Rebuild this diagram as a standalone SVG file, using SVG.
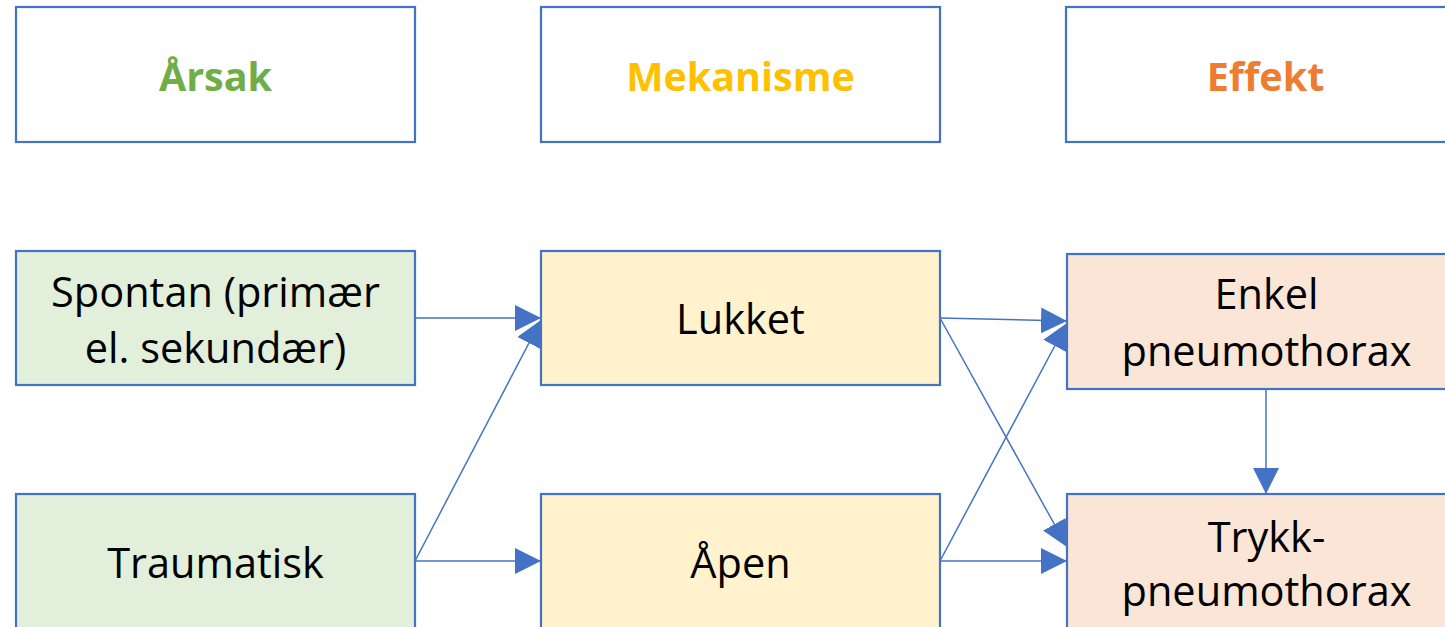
<svg xmlns="http://www.w3.org/2000/svg" width="1445" height="627" viewBox="0 0 1445 627">
<style>
.box{stroke:#4472C4;stroke-width:2.2}
.hdr{fill:#fff}
.g{fill:#E2EFDA}.y{fill:#FFF2CC}.p{fill:#FBE5D6}
text{font-family:"Open Sans","Noto Sans",sans-serif;text-anchor:middle}
.h{font-size:39.5px;font-weight:bold}
.t{font-size:41.5px;fill:#000}
.c{stroke:#4472C4;stroke-width:1.5;fill:none;marker-end:url(#ah)}
</style>
<defs>
<marker id="ah" markerUnits="userSpaceOnUse" markerWidth="28" markerHeight="28" refX="26" refY="13" orient="auto">
<path d="M0,0 L26,13 L0,26 Z" fill="#4472C4"/>
</marker>
</defs>
<rect width="1445" height="627" fill="#fff"/>
<g id="connectors">
<path class="c" d="M415,318 L541,318"/>
<path class="c" d="M415,561 L541,320"/>
<path class="c" d="M415,561 L541,561"/>
<path class="c" d="M940,318 L1067,321"/>
<path class="c" d="M940,318 L1067,547"/>
<path class="c" d="M940,561 L1067,323"/>
<path class="c" d="M940,561 L1067,561"/>
<path class="c" d="M1266,389 L1266,494"/>
</g>
<g id="h-arsak"><rect class="box hdr" x="16" y="7" width="399" height="135"/><text class="h" x="215.5" y="91" fill="#70AD47">Årsak</text></g>
<g id="h-mekanisme"><rect class="box hdr" x="541" y="7" width="399" height="135"/><text class="h" x="740.5" y="91" fill="#FFC000">Mekanisme</text></g>
<g id="h-effekt"><rect class="box hdr" x="1066" y="7" width="399" height="135"/><text class="h" x="1265.5" y="91" fill="#ED7D31">Effekt</text></g>
<g id="spontan"><rect class="box g" x="16" y="251" width="399" height="134"/><text class="t" x="215.5" y="307">Spontan (primær</text><text class="t" x="215.5" y="363">el. sekundær)</text></g>
<g id="lukket"><rect class="box y" x="541" y="251" width="399" height="134"/><text class="t" x="740.5" y="334">Lukket</text></g>
<g id="enkel"><rect class="box p" x="1067" y="254" width="399" height="135"/><text class="t" x="1266.5" y="309">Enkel</text><text class="t" x="1266.5" y="366">pneumothorax</text></g>
<g id="traumatisk"><rect class="box g" x="16" y="494" width="399" height="140"/><text class="t" x="215.5" y="578">Traumatisk</text></g>
<g id="apen"><rect class="box y" x="541" y="494" width="399" height="140"/><text class="t" x="740.5" y="578">Åpen</text></g>
<g id="trykk"><rect class="box p" x="1067" y="494" width="399" height="140"/><text class="t" x="1266.5" y="552">Trykk-</text><text class="t" x="1266.5" y="606">pneumothorax</text></g>
</svg>
